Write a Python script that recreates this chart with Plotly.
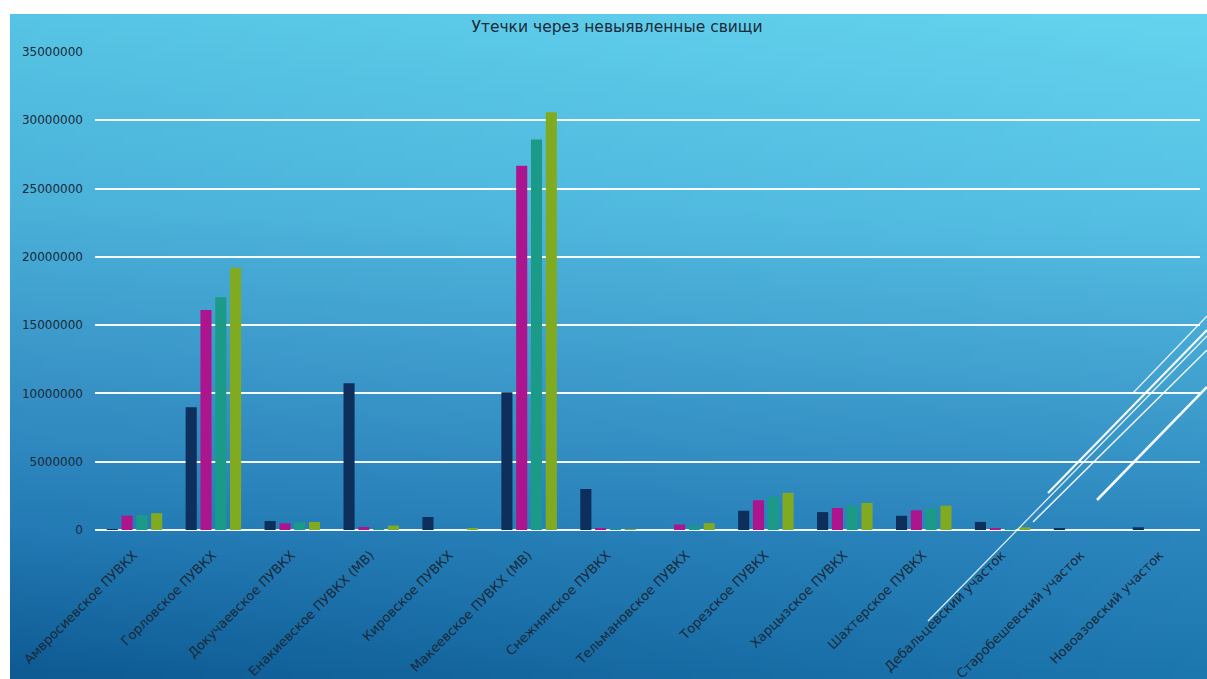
import base64, struct, zlib
import plotly.graph_objects as go

categories = [
    "Амвросиевское ПУВКХ", "Горловское ПУВКХ", "Докучаевское ПУВКХ",
    "Енакиевское ПУВКХ (МВ)", "Кировское ПУВКХ", "Макеевское ПУВКХ (МВ)",
    "Снежнянское ПУВКХ", "Тельмановское ПУВКХ", "Торезское ПУВКХ",
    "Харцызское ПУВКХ", "Шахтерское ПУВКХ", "Дебальцевский участок",
    "Старобешевский участок", "Новоазовский участок",
]
series_names = ["Ряд1", "Ряд2", "Ряд3", "Ряд4"]
series1 = [70000, 8980000, 660000, 10740000, 950000, 10080000, 3000000, 0,
           1410000, 1310000, 1040000, 590000, 100000, 200000]
series2 = [1050000, 16100000, 490000, 220000, 0, 26670000, 120000, 400000,
           2180000, 1610000, 1440000, 120000, 0, 0]
series3 = [1100000, 17050000, 560000, 50000, 0, 28600000, 20000, 300000,
           2430000, 1780000, 1610000, 50000, 0, 0]
series4 = [1230000, 19200000, 590000, 320000, 80000, 30580000, 70000, 500000,
           2720000, 1980000, 1780000, 200000, 0, 0]
series_values = [series1, series2, series3, series4]
colors = ["#0e2e5c", "#ad158e", "#1b9b87", "#80ab21"]
y_ticks = [0, 5000000, 10000000, 15000000, 20000000, 25000000, 30000000, 35000000]

W, H = 1207, 679
ML, MR, MT, MB = 95, 7, 52, 149
PW, PH = W - ML - MR, H - MT - MB


def px2paper(x, y):
    return (x - ML) / PW, (H - MB - y) / PH


# ---- gradient background as small PNG ----
def lerp(a, b, t):
    return tuple(a[i] + (b[i] - a[i]) * t for i in range(3))


left_stops = [(0.0, (86, 196, 228)), (0.3, (74, 176, 216)), (0.55, (56, 146, 198)),
              (0.78, (35, 122, 180)), (1.0, (14, 90, 147))]
right_stops = [(0.0, (100, 212, 238)), (0.3, (86, 192, 228)), (0.55, (66, 162, 208)),
               (0.78, (44, 134, 190)), (1.0, (29, 119, 175))]


def stop_color(stops, v):
    for (v0, c0), (v1, c1) in zip(stops[:-1], stops[1:]):
        if v <= v1:
            return lerp(c0, c1, (v - v0) / (v1 - v0))
    return stops[-1][1]


def make_png(w, h):
    raw = b""
    for j in range(h):
        v = j / (h - 1)
        cl = stop_color(left_stops, v)
        cr = stop_color(right_stops, v)
        row = b"\x00"
        for i in range(w):
            u = i / (w - 1)
            c = lerp(cl, cr, u)
            row += bytes(int(round(max(0, min(255, k)))) for k in c)
        raw += row

    def chunk(tag, data):
        return (struct.pack(">I", len(data)) + tag + data +
                struct.pack(">I", zlib.crc32(tag + data) & 0xffffffff))

    png = b"\x89PNG\r\n\x1a\n"
    png += chunk(b"IHDR", struct.pack(">IIBBBBB", w, h, 8, 2, 0, 0, 0))
    png += chunk(b"IDAT", zlib.compress(raw, 9))
    png += chunk(b"IEND", b"")
    return "data:image/png;base64," + base64.b64encode(png).decode()


bg_src = make_png(120, 80)
bx0, by0 = px2paper(10, 14)
bx1, by1 = px2paper(W, H)

fig = go.Figure()
for name, vals, col in zip(series_names, series_values, colors):
    fig.add_trace(go.Bar(x=categories, y=vals, name=name, marker_color=col,
                         marker_line_width=0))

# decorative white lines (slide design), in reference pixel coordinates
deco = [
    ((928, 621), (1207, 336), 1.3, 0.85),
    ((1133, 393), (1207, 316), 1.3, 0.85),
    ((1048, 493), (1207, 330), 2.2, 0.95),
    ((1033, 522), (1207, 350), 1.5, 0.9),
    ((1097, 500), (1207, 387), 2.6, 0.95),
]
shapes = []
for (x0, y0), (x1, y1), w, a in deco:
    p0 = px2paper(x0, y0)
    p1 = px2paper(x1, y1)
    shapes.append(dict(type="line", xref="paper", yref="paper",
                       x0=p0[0], y0=p0[1], x1=p1[0], y1=p1[1],
                       line=dict(color=f"rgba(255,255,255,{a})", width=w),
                       layer="above"))

font_family = "DejaVu Sans, sans-serif"
fig.update_layout(
    width=W, height=H,
    margin=dict(l=ML, r=MR, t=MT, b=MB, autoexpand=False),
    paper_bgcolor="white",
    plot_bgcolor="rgba(0,0,0,0)",
    showlegend=False,
    barmode="group",
    bargap=0.25,
    bargroupgap=0.25,
    title=dict(text="Утечки через невыявленные свищи", x=617 / W, xref="container",
               y=1 - 27 / H, yref="container", xanchor="center", yanchor="middle",
               automargin=False,
               font=dict(family=font_family, size=15.5, color="#1c2a38")),
    images=[dict(source=bg_src, xref="paper", yref="paper", x=bx0, y=by0,
                 sizex=bx1 - bx0, sizey=by0 - by1, xanchor="left", yanchor="top",
                 sizing="stretch", layer="below")],
    shapes=shapes,
    font=dict(family=font_family, color="#1b2b3d"),
)
fig.update_yaxes(range=[0, 35000000], tickvals=y_ticks, automargin=False,
                 ticktext=[str(v) for v in y_ticks],
                 showgrid=True, gridcolor="rgba(255,255,255,0.95)", gridwidth=1.5,
                 zeroline=True, zerolinecolor="rgba(255,255,255,0.95)", zerolinewidth=1.5,
                 showline=False, ticks="", ticklabelstandoff=11,
                 tickfont=dict(size=12, color="#1a2a3a"))
fig.update_xaxes(range=[-0.5, 13.5], tickangle=-45, automargin=False,
                 showgrid=False, showline=False,
                 ticks="", ticklabelstandoff=14, ticklabelshift=-1,
                 tickfont=dict(size=13, color="#1a2a3a"))

page_fix = ("document.documentElement.style.margin='0';"
            "document.documentElement.style.overflow='hidden';"
            "document.body.style.margin='0';"
            "document.body.style.overflow='hidden';")
fig.write_html("out.html", config={"displayModeBar": False}, post_script=page_fix)
